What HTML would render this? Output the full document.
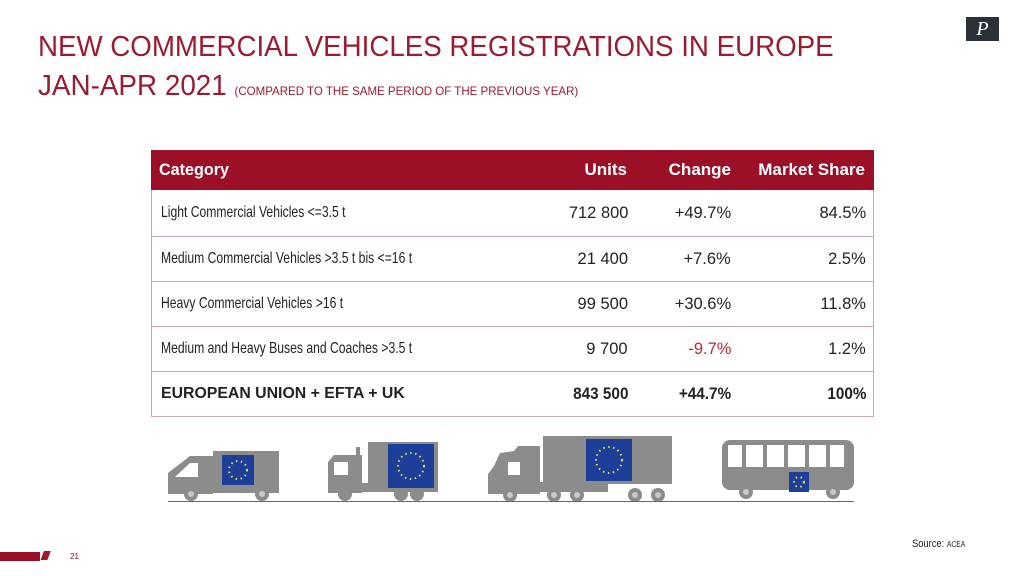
<!DOCTYPE html>
<html><head><meta charset="utf-8"><style>
body{margin:0;width:1024px;height:576px;background:#fff;position:relative;overflow:hidden;font-family:"Liberation Sans",sans-serif;}
.a{position:absolute;white-space:nowrap;}
.s{display:inline-block;transform-origin:left center;}
.r{display:inline-block;transform-origin:right center;}
.t{color:#9b1b30;font-size:29px;}
.hd{color:#fff;font-weight:bold;font-size:17px;}
.cat{color:#222;font-size:16px;}
.num{color:#222;font-size:17px;}
.line{position:absolute;left:151px;width:723px;height:1px;background:#c9a9ae;}
</style></head><body>
<div class="a" style="left:966px;top:17px;width:33px;height:24px;background:#2b3138;color:#fff;font-family:'Liberation Serif',serif;font-style:italic;font-size:20px;text-align:center;line-height:24px;">P</div>
<div class="a t" style="left:38px;top:31px;"><span class="s" style="transform:scaleX(0.955)">NEW COMMERCIAL VEHICLES REGISTRATIONS IN EUROPE</span></div>
<div class="a t" style="left:38px;top:70px;"><span class="s" style="transform:scaleX(0.96)">JAN-APR 2021 <span style="font-size:12px">(COMPARED TO THE SAME PERIOD OF THE PREVIOUS YEAR)</span></span></div>

<div class="a" style="left:151px;top:150px;width:723px;height:40px;background:#9b0f27;"></div>
<div class="a" style="left:151px;top:190px;width:721px;height:226px;border:1px solid #c9a9ae;border-top:none;"></div>
<div class="line" style="top:236px"></div>
<div class="line" style="top:281px"></div>
<div class="line" style="top:326px"></div>
<div class="line" style="top:371px"></div>

<div class="a hd" style="left:159px;top:160px;"><span class="s" style="transform:scaleX(0.95)">Category</span></div>
<div class="a hd" style="right:397px;top:160px;"><span class="r" style="transform:scaleX(1.0)">Units</span></div>
<div class="a hd" style="right:293px;top:160px;"><span class="r" style="transform:scaleX(1.0)">Change</span></div>
<div class="a hd" style="right:159px;top:160px;"><span class="r" style="transform:scaleX(1.0)">Market Share</span></div>

<div class="a cat" style="left:161px;top:204px;"><span class="s" style="transform:scaleX(0.76)">Light Commercial Vehicles &lt;=3.5 t</span></div>
<div class="a cat" style="left:161px;top:250px;"><span class="s" style="transform:scaleX(0.76)">Medium Commercial Vehicles &gt;3.5 t bis &lt;=16 t</span></div>
<div class="a cat" style="left:161px;top:295px;"><span class="s" style="transform:scaleX(0.76)">Heavy Commercial Vehicles &gt;16 t</span></div>
<div class="a cat" style="left:161px;top:340px;"><span class="s" style="transform:scaleX(0.76)">Medium and Heavy Buses and Coaches &gt;3.5 t</span></div>
<div class="a cat" style="left:161px;top:385px;font-weight:bold;"><span class="s" style="transform:scaleX(0.99)">EUROPEAN UNION + EFTA + UK</span></div>

<div class="a num" style="right:396px;top:203px;"><span class="r" style="transform:scaleX(0.97)">712 800</span></div>
<div class="a num" style="right:293px;top:203px;"><span class="r" style="transform:scaleX(0.97)">+49.7%</span></div>
<div class="a num" style="right:158px;top:203px;"><span class="r" style="transform:scaleX(0.97)">84.5%</span></div>
<div class="a num" style="right:396px;top:249px;"><span class="r" style="transform:scaleX(0.97)">21 400</span></div>
<div class="a num" style="right:293px;top:249px;"><span class="r" style="transform:scaleX(0.97)">+7.6%</span></div>
<div class="a num" style="right:158px;top:249px;"><span class="r" style="transform:scaleX(0.97)">2.5%</span></div>
<div class="a num" style="right:396px;top:294px;"><span class="r" style="transform:scaleX(0.97)">99 500</span></div>
<div class="a num" style="right:293px;top:294px;"><span class="r" style="transform:scaleX(0.97)">+30.6%</span></div>
<div class="a num" style="right:158px;top:294px;"><span class="r" style="transform:scaleX(0.97)">11.8%</span></div>
<div class="a num" style="right:396px;top:339px;"><span class="r" style="transform:scaleX(0.97)">9 700</span></div>
<div class="a num" style="right:293px;top:339px;color:#c0262e;"><span class="r" style="transform:scaleX(0.97)">-9.7%</span></div>
<div class="a num" style="right:158px;top:339px;"><span class="r" style="transform:scaleX(0.97)">1.2%</span></div>
<div class="a num" style="right:396px;top:384px;font-weight:bold;"><span class="r" style="transform:scaleX(0.9)">843 500</span></div>
<div class="a num" style="right:293px;top:384px;font-weight:bold;"><span class="r" style="transform:scaleX(0.9)">+44.7%</span></div>
<div class="a num" style="right:158px;top:384px;font-weight:bold;"><span class="r" style="transform:scaleX(0.9)">100%</span></div>

<svg class="a" style="left:0;top:0" width="1024" height="576">
<g fill="#8c8c8c">
<polygon points="168,494 168,473 190,456 213,456 213,494"/>
<rect x="213" y="451" width="66" height="42"/>
<rect x="168" y="484" width="111" height="8"/>
<circle cx="191" cy="494" r="7"/><circle cx="262" cy="494" r="7"/>
<polygon points="328,493 328,462 334,455 362,455 362,493"/>
<rect x="356" y="447" width="4" height="12"/>
<rect x="368" y="442" width="70" height="49"/>
<rect x="328" y="483" width="110" height="9"/>
<circle cx="345" cy="494" r="7"/><circle cx="401" cy="494" r="7"/><circle cx="417" cy="494" r="7"/>
<polygon points="488,494 488,474 494,466 500,453 514,451 518,446 540,446 540,494"/>
<rect x="543" y="436" width="129" height="48"/>
<rect x="488" y="482" width="120" height="10"/>
<circle cx="510" cy="495" r="7"/><circle cx="554" cy="495" r="7"/><circle cx="577" cy="495" r="7"/>
<circle cx="635" cy="495" r="7"/><circle cx="658" cy="495" r="7"/>
<rect x="722" y="440" width="132" height="50" rx="8"/>
<circle cx="746" cy="492" r="7"/><circle cx="833" cy="492" r="7"/>
</g>
<g fill="#fff">
<polygon points="175,477 190,463 198,463 198,477"/>
<rect x="334" y="462" width="14" height="13"/>
<rect x="508" y="462" width="12" height="13"/>
<rect x="728" y="445" width="14" height="22"/><rect x="746" y="445" width="17" height="22"/><rect x="767" y="445" width="17" height="22"/><rect x="788" y="445" width="17" height="22"/><rect x="809" y="445" width="17" height="22"/><rect x="830" y="445" width="14" height="22"/>
</g>
<g fill="#c8c8c8">
<circle cx="191" cy="494" r="3"/><circle cx="262" cy="494" r="3"/><circle cx="510" cy="495" r="3"/><circle cx="554" cy="495" r="3"/><circle cx="577" cy="495" r="3"/><circle cx="635" cy="495" r="3"/><circle cx="658" cy="495" r="3"/><circle cx="746" cy="492" r="3"/><circle cx="833" cy="492" r="3"/>
</g>
<g fill="#1d3f9a">
<rect x="222" y="455" width="32" height="30"/>
<rect x="388" y="444" width="46" height="44"/>
<rect x="586" y="439" width="46" height="42"/>
<rect x="789" y="472" width="20" height="20"/>
</g>
<g fill="none" stroke="#e8d84a" stroke-width="2" stroke-dasharray="1.5 3.5">
<circle cx="238" cy="470" r="9"/><circle cx="411" cy="466" r="13"/><circle cx="609" cy="460" r="13"/><circle cx="799" cy="482" r="5"/>
</g>
<rect x="168" y="501" width="686" height="1" fill="#666"/>
</svg>

<div class="a" style="left:912px;top:538px;font-size:11px;color:#222;"><span class="s" style="transform:scaleX(0.85)">Source: <span style="font-size:8px">ACEA</span></span></div>
<div class="a" style="left:0;top:552px;width:40px;height:9px;background:#9b0f27;"></div>
<div class="a" style="left:41px;top:549px;font-size:12px;color:#9b0f27;font-style:italic;letter-spacing:-2px;font-weight:bold;">/////</div>
<div class="a" style="left:70px;top:552px;font-size:8px;color:#9b0f27;">21</div>
</body></html>
